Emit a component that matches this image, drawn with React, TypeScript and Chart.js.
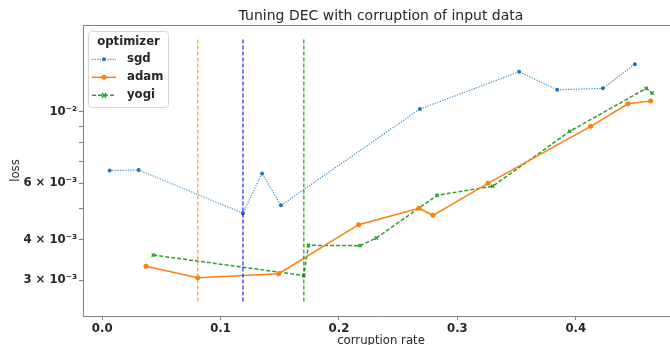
import React, { useEffect, useRef } from 'react';
import { Chart, registerables } from 'chart.js';
Chart.register(...registerables);

const FONT = '"DejaVu Sans", "Liberation Sans", sans-serif';

// ---- data ----
const sgdX = [0.0063, 0.0308, 0.1189, 0.135, 0.151, 0.2684, 0.3522, 0.3843, 0.4229, 0.4499];
const sgdY = [0.00656, 0.00659, 0.00484, 0.00643, 0.00512, 0.01018, 0.01328, 0.01168, 0.0118, 0.014];
const adamX = [0.037, 0.0807, 0.1491, 0.2166, 0.2675, 0.2794, 0.3258, 0.4126, 0.4441, 0.4633];
const adamY = [0.003315, 0.003055, 0.003144, 0.004459, 0.005013, 0.00477, 0.00599, 0.009, 0.01057, 0.01078];
const yogiX = [0.0432, 0.1703, 0.1742, 0.2177, 0.2315, 0.2829, 0.3299, 0.3949, 0.4596, 0.4645];
const yogiY = [0.003592, 0.003104, 0.00385, 0.00384, 0.004055, 0.0055, 0.00587, 0.00868, 0.0118, 0.01141];

const seriesNames = ['sgd', 'adam', 'yogi'];
const legendTitle = 'optimizer';
const chartTitle = 'Tuning DEC with corruption of input data';
const xLabel = 'corruption rate';
const yLabel = 'loss';

const xTicks = [0.0, 0.1, 0.2, 0.3, 0.4];
const yTickValues = [0.003, 0.004, 0.005, 0.006, 0.007, 0.008, 0.009, 0.01];
const yTickLabels = ['3 × 10⁻³', '4 × 10⁻³', '', '6 × 10⁻³', '', '', '', '10⁻²'];

const xMin = -0.0162;
const xMax = 0.4872;
const yMin = 0.002325;
const yMax = 0.01854;

// ---- styles ----
const seriesStyles = [
  { color: 'rgba(31,119,180,0.8)', fill: '#1f77b4', dash: [1.3, 1.3], width: 1.2, marker: 'circle', r: 2 },
  { color: '#ff7f0e', fill: '#ff7f0e', dash: [], width: 1.5, marker: 'circle', r: 2.5 },
  { color: '#2ca02c', fill: '#2ca02c', dash: [4, 2], width: 1.5, marker: 'crossRot', r: 2.3 },
];
// vertical line colours per series: sgd, adam, yogi
const vlineColors = ['rgba(0,0,255,0.7)', 'rgba(255,165,0,0.8)', 'rgba(0,128,0,0.7)'];

const argminX = (xs: number[], ys: number[]) => {
  let k = 0;
  ys.forEach((v, i) => { if (v < ys[k]) k = i; });
  return xs[k];
};

const lg = Math.log10;
const vBottom = Math.pow(10, lg(yMin) + 0.05 * (lg(yMax) - lg(yMin)));
const vTop = Math.pow(10, lg(yMin) + 0.95 * (lg(yMax) - lg(yMin)));

const drawMarker = (ctx: CanvasRenderingContext2D, st: any, x: number, y: number) => {
  ctx.save();
  if (st.marker === 'circle') {
    ctx.beginPath();
    ctx.arc(x, y, st.r, 0, Math.PI * 2);
    ctx.fillStyle = st.fill;
    ctx.fill();
  } else {
    ctx.beginPath();
    ctx.setLineDash([]);
    ctx.strokeStyle = st.fill;
    ctx.lineWidth = 1.5;
    ctx.moveTo(x - st.r, y - st.r);
    ctx.lineTo(x + st.r, y + st.r);
    ctx.moveTo(x + st.r, y - st.r);
    ctx.lineTo(x - st.r, y + st.r);
    ctx.stroke();
  }
  ctx.restore();
};

const framePlugin = {
  id: 'frame',
  afterDraw(chart: any) {
    const { ctx, chartArea } = chart;
    ctx.save();
    ctx.strokeStyle = '#808080';
    ctx.lineWidth = 1;
    ctx.beginPath();
    ctx.moveTo(chartArea.left, Math.round(chartArea.top) + 0.5);
    ctx.lineTo(chartArea.right, Math.round(chartArea.top) + 0.5);
    ctx.stroke();
    ctx.restore();
  },
};

const legendPlugin = {
  id: 'mplLegend',
  afterDraw(chart: any) {
    const ctx: CanvasRenderingContext2D = chart.ctx;
    ctx.save();
    ctx.beginPath();
    (ctx as any).roundRect(88.5, 31.5, 80, 76, 3);
    ctx.fillStyle = 'rgba(255,255,255,0.8)';
    ctx.fill();
    ctx.strokeStyle = '#d6d6d6';
    ctx.lineWidth = 1;
    ctx.stroke();
    ctx.font = `bold 11.7px ${FONT}`;
    ctx.fillStyle = '#262626';
    ctx.textAlign = 'center';
    ctx.textBaseline = 'middle';
    ctx.fillText(legendTitle, 128.5, 41.5);
    seriesNames.forEach((name, i) => {
      const st = seriesStyles[i];
      const y = 59.3 + 18 * i;
      ctx.save();
      ctx.beginPath();
      ctx.setLineDash(st.dash);
      ctx.strokeStyle = st.color;
      ctx.lineWidth = st.width;
      ctx.moveTo(92, y);
      ctx.lineTo(116, y);
      ctx.stroke();
      ctx.restore();
      drawMarker(ctx, st, 104, y);
      ctx.textAlign = 'left';
      ctx.fillStyle = '#262626';
      ctx.fillText(name, 127, y);
    });
    ctx.restore();
  },
};

export default function App() {
  const ref = useRef<HTMLCanvasElement | null>(null);
  useEffect(() => {
    if (!ref.current) return;
    const series = [
      { xs: sgdX, ys: sgdY },
      { xs: adamX, ys: adamY },
      { xs: yogiX, ys: yogiY },
    ];
    const vlines = series.map((s, i) => ({
      type: 'line' as const,
      label: 'min-' + seriesNames[i],
      data: [
        { x: argminX(s.xs, s.ys), y: vBottom },
        { x: argminX(s.xs, s.ys), y: vTop },
      ],
      borderColor: vlineColors[i],
      borderDash: [4, 2],
      borderWidth: 1.5,
      pointRadius: 0,
      fill: false,
    }));
    const lines = series.map((s, i) => {
      const st = seriesStyles[i];
      return {
        type: 'line' as const,
        label: seriesNames[i],
        data: s.xs.map((x, k) => ({ x, y: s.ys[k] })),
        borderColor: st.color,
        borderDash: st.dash,
        borderWidth: st.width,
        pointStyle: st.marker,
        pointRadius: st.r,
        pointBackgroundColor: st.fill,
        pointBorderColor: st.fill,
        pointBorderWidth: st.marker === 'crossRot' ? 1.5 : 0,
        tension: 0,
        fill: false,
      };
    });
    const chart = new Chart(ref.current, {
      type: 'line',
      data: { datasets: [...vlines, ...lines] as any },
      options: {
        animation: false,
        responsive: false,
        maintainAspectRatio: false,
        layout: { padding: 0, autoPadding: false },
        plugins: {
          legend: { display: false },
          tooltip: { enabled: false },
          title: {
            display: true,
            text: chartTitle,
            fullSize: false,
            color: '#262626',
            font: { family: FONT, size: 14, weight: 'normal' },
            padding: { top: 8.2, bottom: 0 },
          },
        },
        scales: {
          x: {
            type: 'linear',
            min: xMin,
            max: xMax,
            afterBuildTicks: (s: any) => { s.ticks = xTicks.map((v) => ({ value: v })); },
            afterFit: (s: any) => { s.height = 29; },
            ticks: {
              autoSkip: false,
              maxRotation: 0,
              padding: 2,
              color: '#262626',
              font: { family: FONT, size: 11.7, weight: 'bold' },
              callback: (v: any) => Number(v).toFixed(1),
            },
            grid: { drawOnChartArea: false, drawTicks: true, tickLength: 4, tickColor: '#808080' },
            border: { display: true, color: '#808080', width: 1 },
            title: {
              display: true,
              text: xLabel,
              color: '#262626',
              font: { family: FONT, size: 11.7 },
              padding: { top: 0, bottom: -3 },
            },
          },
          y: {
            type: 'logarithmic',
            min: yMin,
            max: yMax,
            afterBuildTicks: (s: any) => { s.ticks = yTickValues.map((v) => ({ value: v })); },
            afterFit: (s: any) => { s.width = 83; },
            ticks: {
              autoSkip: false,
              padding: 2,
              color: '#262626',
              font: { family: FONT, size: 11.7, weight: 'bold' },
              callback: (_v: any, i: number) => yTickLabels[i],
            },
            grid: { drawOnChartArea: false, drawTicks: true, tickLength: 4, tickColor: '#808080' },
            border: { display: true, color: '#808080', width: 1 },
            title: {
              display: true,
              text: yLabel,
              color: '#262626',
              font: { family: FONT, size: 11.7 },
              padding: { top: 9, bottom: 0 },
            },
          },
        },
      } as any,
      plugins: [framePlugin, legendPlugin],
    });
    return () => chart.destroy();
  }, []);
  return (
    <div style={{ position: 'fixed', left: 0, top: 0, width: 670, height: 345, overflow: 'hidden', background: '#fff' }}>
      <canvas ref={ref} width={679} height={345} style={{ width: 679, height: 345, display: 'block' }} />
    </div>
  );
}
